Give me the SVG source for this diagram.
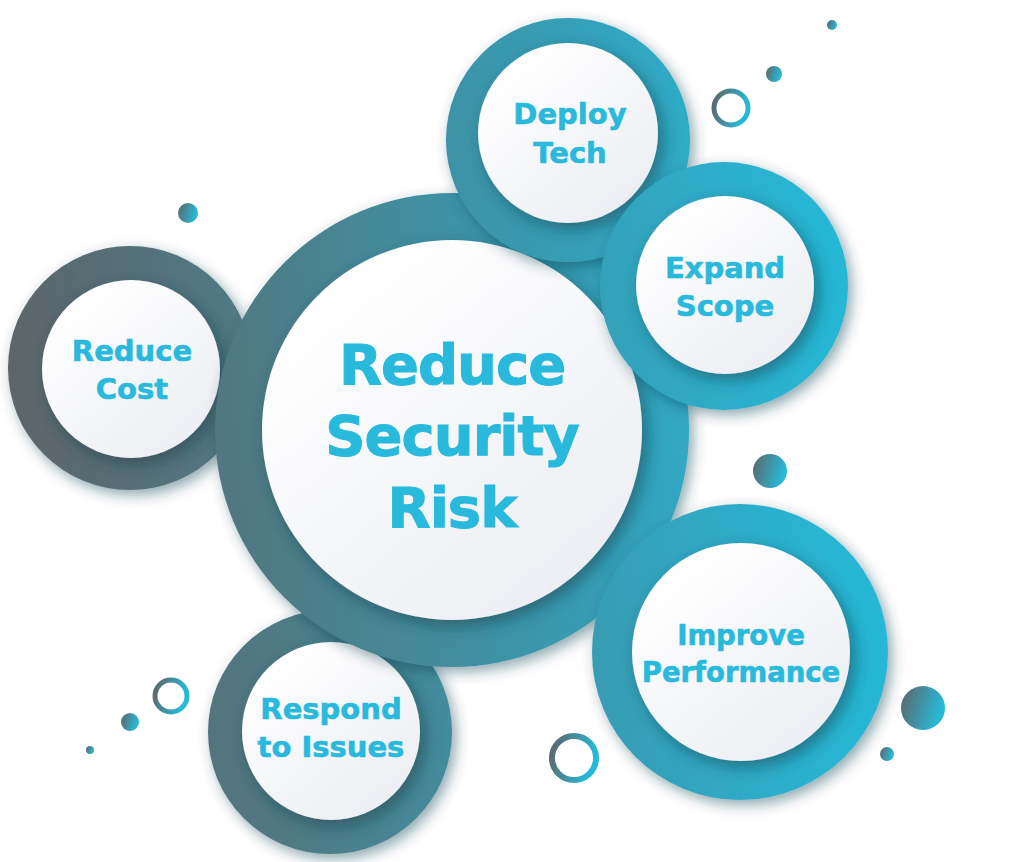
<svg xmlns="http://www.w3.org/2000/svg" width="1024" height="862" viewBox="0 0 1024 862">
<defs>
<linearGradient id="ringG" gradientUnits="userSpaceOnUse" x1="0" y1="480" x2="1024" y2="380">
<stop offset="0" stop-color="#5f6367"/>
<stop offset="0.25" stop-color="#4f7a84"/>
<stop offset="0.5" stop-color="#3b96ab"/>
<stop offset="0.78" stop-color="#29b4d2"/>
<stop offset="1" stop-color="#20c0dd"/>
</linearGradient>
<linearGradient id="dotG" x1="0" y1="0" x2="1" y2="0.3">
<stop offset="0" stop-color="#5f6367"/>
<stop offset="1" stop-color="#27bad8"/>
</linearGradient>
<linearGradient id="whiteG" x1="0.2" y1="0.1" x2="0.85" y2="0.9">
<stop offset="0" stop-color="#ffffff"/>
<stop offset="1" stop-color="#eceef3"/>
</linearGradient>
<filter id="sh" x="-20%" y="-20%" width="140%" height="140%">
<feDropShadow dx="4" dy="5" stdDeviation="7" flood-color="#0d3a48" flood-opacity="0.45"/>
</filter>
<filter id="shw" x="-20%" y="-20%" width="140%" height="140%">
<feDropShadow dx="5" dy="6" stdDeviation="8" flood-color="#0b3442" flood-opacity="0.5"/>
</filter>
</defs>
<style>
.ring{fill:url(#ringG);filter:url(#sh)}
.inner{fill:url(#whiteG);filter:url(#shw)}
.lbl{font-family:"DejaVu Sans","Liberation Sans",sans-serif;font-weight:700;fill:#28b9dc;stroke:#28b9dc;stroke-width:0.6px;text-anchor:middle}
.big{font-size:56px;letter-spacing:-1px;stroke-width:1px}
.sm{font-size:29px}
.dot{fill:url(#dotG)}
.hoop{fill:none;stroke:url(#dotG)}
</style>
<rect width="1024" height="862" fill="#ffffff"/>
<g id="decorations">
<circle class="dot" cx="832" cy="25" r="5"/>
<circle class="dot" cx="774" cy="74" r="8"/>
<circle class="hoop" cx="731" cy="108" r="17" stroke-width="5"/>
<circle class="dot" cx="188" cy="213" r="10"/>
<circle class="dot" cx="770" cy="471" r="17"/>
<circle class="dot" cx="923" cy="708" r="22"/>
<circle class="dot" cx="887" cy="754" r="7"/>
<circle class="hoop" cx="171" cy="696" r="16" stroke-width="5"/>
<circle class="dot" cx="130" cy="722" r="9"/>
<circle class="dot" cx="90" cy="750" r="4"/>
<circle class="hoop" cx="574" cy="758" r="22" stroke-width="6"/>
</g>
<g id="connectors"></g>
<g id="reduce-cost">
<circle class="ring" cx="130" cy="368" r="122"/>
<circle class="inner" cx="131" cy="369" r="89"/>
<text class="lbl sm" x="132" y="361">Reduce</text>
<text class="lbl sm" x="132" y="399">Cost</text>
</g>
<g id="respond-to-issues">
<circle class="ring" cx="330" cy="732" r="122"/>
<circle class="inner" cx="331" cy="731" r="89"/>
<text class="lbl sm" x="331" y="719">Respond</text>
<text class="lbl sm" x="331" y="757">to Issues</text>
</g>
<g id="reduce-security-risk">
<circle class="ring" cx="452" cy="430" r="237"/>
<circle class="inner" cx="452" cy="430" r="190"/>
<text class="lbl big" x="452" y="384">Reduce</text>
<text class="lbl big" x="452" y="455">Security</text>
<text class="lbl big" x="452" y="527">Risk</text>
</g>
<g id="deploy-tech">
<circle class="ring" cx="568" cy="140" r="122"/>
<circle class="inner" cx="568" cy="133" r="90"/>
<text class="lbl sm" x="570" y="124">Deploy</text>
<text class="lbl sm" x="570" y="163">Tech</text>
</g>
<g id="expand-scope">
<circle class="ring" cx="724" cy="286" r="124"/>
<circle class="inner" cx="725" cy="285" r="89"/>
<text class="lbl sm" x="725" y="278">Expand</text>
<text class="lbl sm" x="725" y="316">Scope</text>
</g>
<g id="improve-performance">
<circle class="ring" cx="740" cy="652" r="148"/>
<circle class="inner" cx="741" cy="652" r="109"/>
<text class="lbl" font-size="27.5" x="741" y="645">Improve</text>
<text class="lbl" font-size="27.5" x="741" y="682">Performance</text>
</g>
</svg>
